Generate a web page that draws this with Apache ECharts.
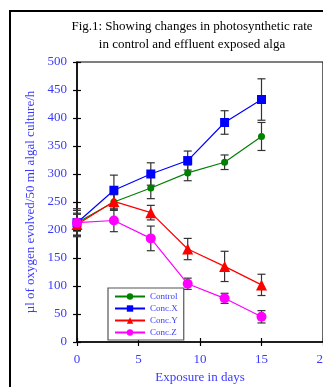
<!DOCTYPE html>
<html><head><meta charset="utf-8">
<script src="https://cdn.jsdelivr.net/npm/echarts@6/dist/echarts.min.js"></script>
<style>html,body{margin:0;padding:0;background:#fff}#c{width:323px;height:387px}</style>
</head><body><div id="c"></div>
<script>
const days=[0,3,6,9,12,15];
const control=[213,250,275,302,321,367];
const controlErr=[22,15,19,14,13,25];
const concX=[213,271,300,324,392,433];
const concXErr=[25,27,20,17,21,37];
const concY=[210,251,231,166,135,102];
const concYErr=[20,12,13,19,27,19];
const concZ=[213,217,185,104,78,45];
const concZErr=[15,20,22,10,9,11];
const xTicks=[0,5,10,15,20];
const yTicks=[0,50,100,150,200,250,300,350,400,450,500];
const names=['Control','Conc.X','Conc.Y','Conc.Z'];

const FONT='Liberation Serif';
const lab='#3a3aff';
const chart=echarts.init(document.getElementById('c'));
function pairs(v){return days.map((d,i)=>[d,v[i]]);}
function errSeries(v,e){
  return {type:'custom',silent:true,z:1,
    data:days.map((d,i)=>[d,v[i],e[i]]),
    renderItem:function(p,api){
      const x=api.value(0),y=api.value(1),er=api.value(2);
      const t=api.coord([x,y+er]),b=api.coord([x,y-er]);
      const w=4;
      const st={stroke:'#333',lineWidth:1.2};
      return {type:'group',children:[
        {type:'line',shape:{x1:t[0],y1:t[1],x2:b[0],y2:b[1]},style:st},
        {type:'line',shape:{x1:t[0]-w,y1:t[1],x2:t[0]+w,y2:t[1]},style:st},
        {type:'line',shape:{x1:b[0]-w,y1:b[1],x2:b[0]+w,y2:b[1]},style:st}]};
    }};
}
function lineSeries(name,v,color,symbol,size){
  return {name:name,type:'line',data:pairs(v),symbol:symbol,symbolSize:size,z:3,
    lineStyle:{color:color,width:1.2},itemStyle:{color:color},emphasis:{disabled:true}};
}
const yBase={type:'value',min:0,max:500,interval:50,position:'left'};
const xBase={type:'value',min:0,max:20,interval:5,position:'bottom'};
chart.setOption({
  animation:false,
  textStyle:{fontFamily:FONT},
  title:{text:'Fig.1: Showing changes in photosynthetic rate\nin control and effluent exposed alga',
    left:187,top:13,textAlign:'center',
    textStyle:{fontFamily:FONT,fontSize:13,fontWeight:'normal',color:'#000',lineHeight:18}},
  graphic:[{type:'rect',shape:{x:10,y:11,width:400,height:420},style:{fill:'none',stroke:'#000',lineWidth:2},z:-1}],
  grid:{left:77,right:0,top:62,bottom:45,show:true,borderColor:'#000',borderWidth:1.2,outerBoundsMode:'none',containLabel:false},
  legend:{data:names,orient:'vertical',left:108,top:288,itemWidth:30,itemHeight:8,itemGap:3,
    padding:[4,6,3,6],borderColor:'#555',borderWidth:1.2,backgroundColor:'#fff',
    textStyle:{fontFamily:FONT,fontSize:9,color:lab}},
  xAxis:[
    Object.assign({},xBase,{name:'Exposure in days',nameLocation:'middle',nameGap:29,
      nameTextStyle:{fontFamily:FONT,fontSize:13,color:lab},
      axisLine:{lineStyle:{color:'#000',width:1.5}},
      axisTick:{length:4,lineStyle:{color:'#000',width:1.2}},
      axisLabel:{fontFamily:FONT,fontSize:13,color:lab,margin:11},splitLine:{show:false}}),
    Object.assign({},xBase,{axisLine:{show:false},axisTick:{inside:true,length:4,lineStyle:{color:'#000',width:1.2}},
      axisLabel:{show:false},splitLine:{show:false}})
  ],
  yAxis:[
    Object.assign({},yBase,{name:'µl of oxygen evolved/50 ml algal culture/h',nameLocation:'middle',nameGap:35,
      nameTextStyle:{fontFamily:FONT,fontSize:13,color:lab},
      axisLine:{lineStyle:{color:'#000',width:1.5}},
      axisTick:{length:4,lineStyle:{color:'#000',width:1.2}},
      axisLabel:{fontFamily:FONT,fontSize:13,color:lab,margin:10},splitLine:{show:false}}),
    Object.assign({},yBase,{axisLine:{show:false},axisTick:{inside:true,length:4,lineStyle:{color:'#000',width:1.2}},
      axisLabel:{show:false},splitLine:{show:false}})
  ],
  series:[
    errSeries(control,controlErr),errSeries(concX,concXErr),errSeries(concY,concYErr),errSeries(concZ,concZErr),
    lineSeries('Control',control,'#008000','circle',7),
    lineSeries('Conc.X',concX,'#0000ff','rect',9),
    lineSeries('Conc.Y',concY,'#ff0000','triangle',11),
    lineSeries('Conc.Z',concZ,'#ff00ff','circle',10)
  ]
});
</script></body></html>
